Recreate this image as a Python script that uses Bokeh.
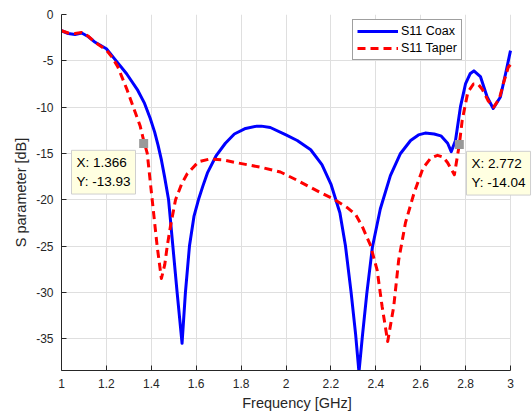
from bokeh.plotting import figure
from bokeh.models import Range1d, Legend, LegendItem, Label, FixedTicker, ColumnDataSource, BoxAnnotation
from bokeh.embed import file_html
from bokeh.resources import INLINE

# ---- data ----
coax_f = [1.00, 1.03, 1.06, 1.09, 1.12, 1.15, 1.20, 1.24, 1.29, 1.34, 1.37, 1.395, 1.415,
          1.43, 1.445, 1.459, 1.477, 1.496, 1.515, 1.537, 1.552, 1.570, 1.59, 1.61, 1.63, 1.65,
          1.69, 1.73, 1.77, 1.82, 1.87, 1.89, 1.93, 2.00, 2.05, 2.11, 2.16, 2.20, 2.24, 2.265,
          2.29, 2.31, 2.325, 2.34, 2.36, 2.385, 2.42, 2.465, 2.51, 2.555, 2.59, 2.62, 2.66,
          2.69, 2.72, 2.736, 2.755, 2.777, 2.80, 2.82, 2.837, 2.866, 2.896, 2.923, 2.955,
          2.978, 3.00]
coax_db = [-1.75, -2.05, -2.15, -2.0, -2.4, -3.0, -3.7, -4.9, -6.4, -8.2, -9.6, -11.2, -12.7,
           -14.1, -15.7, -17.5, -20.0, -25.0, -30.0, -35.5, -30.0, -25.0, -21.8, -20.0, -18.5, -17.1,
           -15.2, -13.9, -12.9, -12.3, -12.05, -12.05, -12.2, -13.0, -13.6, -14.6, -16.2, -18.3, -21.4,
           -25.0, -30.0, -34.5, -38.6, -34.8, -30.1, -25.1, -21.0, -17.4, -15.0, -13.6, -13.0, -12.8,
           -12.9, -13.1, -13.9, -14.8, -13.6, -9.97, -7.45, -6.4, -6.08, -6.7, -8.9, -10.15, -8.9,
           -6.4, -3.9]

taper_f = [1.00, 1.03, 1.06, 1.09, 1.12, 1.15, 1.20, 1.225, 1.25, 1.29, 1.32, 1.35, 1.365,
           1.382, 1.404, 1.426, 1.445, 1.46, 1.471, 1.485, 1.508, 1.535, 1.56, 1.61, 1.66, 1.72,
           1.78, 1.89, 1.975, 2.05, 2.12, 2.21, 2.27, 2.31, 2.34, 2.376, 2.406, 2.428, 2.453, 2.48,
           2.502, 2.532, 2.57, 2.61, 2.645, 2.675, 2.70, 2.72, 2.75, 2.772, 2.785, 2.81, 2.835, 2.855,
           2.875, 2.90, 2.925, 2.95, 2.97, 2.99, 3.00]
taper_db = [-1.75, -2.0, -2.05, -1.95, -2.35, -3.0, -3.85, -4.6, -5.6, -8.0, -10.0, -12.0, -13.5,
            -15.0, -20.0, -25.0, -28.5, -27.0, -25.0, -22.9, -20.0, -18.3, -17.2, -15.9, -15.6, -15.7,
            -16.0, -16.5, -17.0, -17.9, -18.8, -19.9, -20.8, -21.6, -22.9, -24.9, -27.6, -31.5, -35.3, -31.5,
            -26.5, -22.5, -19.3, -16.6, -15.5, -15.2, -15.4, -16.0, -17.3, -14.04, -11.4, -8.4, -7.5, -7.5,
            -8.1, -9.3, -10.0, -9.1, -7.3, -5.7, -5.4]

tip_x = [1.366, 2.772]
tip_y = [-13.93, -14.04]
tip_text = ["X: 1.366\nY: -13.93", "X: 2.772\nY: -14.04"]

x_ticks = [1.0, 1.2, 1.4, 1.6, 1.8, 2.0, 2.2, 2.4, 2.6, 2.8, 3.0]
x_tick_labels = ["1", "1.2", "1.4", "1.6", "1.8", "2", "2.2", "2.4", "2.6", "2.8", "3"]
y_ticks = [0, -5, -10, -15, -20, -25, -30, -35]
y_tick_labels = ["0", "-5", "-10", "-15", "-20", "-25", "-30", "-35"]

series_names = ["S11 Coax", "S11 Taper"]
x_label = "Frequency [GHz]"
y_label = "S parameter [dB]"

FONT = "Liberation Sans"
TXT = "#262626"

X_MIN, X_MAX = 1.0, 3.0
# frame is widened to the page edge so the right data tip can overhang x=3
FRAME_L, FRAME_R_DATA, PAGE_R = 61, 510, 532
x_end = X_MIN + (X_MAX - X_MIN) * (PAGE_R - FRAME_L) / (FRAME_R_DATA - FRAME_L)

p = figure(width=532, height=415, x_range=Range1d(X_MIN, x_end), y_range=Range1d(-38.43, 0),
           output_backend="svg", toolbar_location=None,
           min_border_left=61, min_border_right=0, min_border_top=14, min_border_bottom=45)
p.outline_line_color = None
p.background_fill_color = "white"
p.border_fill_color = "white"

# axes
p.xaxis.ticker = FixedTicker(ticks=x_ticks)
p.yaxis.ticker = FixedTicker(ticks=y_ticks)
p.xaxis.major_label_overrides = dict(zip(x_ticks, x_tick_labels))
p.yaxis.major_label_overrides = dict(zip(y_ticks, y_tick_labels))
p.xaxis.bounds = (X_MIN, X_MAX)
for ax in (p.xaxis, p.yaxis):
    ax.major_tick_in = 5
    ax.major_tick_out = 0
    ax.minor_tick_line_color = None
    ax.axis_line_color = TXT
    ax.major_tick_line_color = TXT
    ax.major_label_text_font = FONT
    ax.major_label_text_font_size = "12px"
    ax.major_label_text_color = TXT
    ax.axis_label_text_font = FONT
    ax.axis_label_text_font_size = "14.5px"
    ax.axis_label_text_font_style = "normal"
    ax.axis_label_text_color = TXT
p.xaxis.axis_label = x_label
p.yaxis.axis_label = y_label
p.xaxis.major_label_standoff = 8
p.xaxis.axis_label_standoff = 4
p.yaxis.major_label_standoff = 8
p.yaxis.axis_label_standoff = 4

p.grid.grid_line_color = "#dfdfdf"
p.grid.grid_line_width = 1
ygrid = p.ygrid[0]
if "cross_bounds" in ygrid.properties():
    ygrid.cross_bounds = (X_MIN, X_MAX)
else:
    p.add_layout(BoxAnnotation(left=X_MAX + 0.004, fill_color="white", fill_alpha=1.0,
                               line_color=None, level="underlay"))

src_c = ColumnDataSource(dict(x=coax_f, y=coax_db))
src_t = ColumnDataSource(dict(x=taper_f, y=taper_db))
r1 = p.line("x", "y", source=src_c, line_color="#0000ff", line_width=3, line_join="round")
r2 = p.line("x", "y", source=src_t, line_color="#ff0000", line_width=3, line_dash="8 5",
            line_join="round")

# data tips
p.scatter(tip_x, tip_y, marker="square", size=9, fill_color="#999999", line_color=None)
tip_box_pos = [(1.0445, -14.66), (2.804, -14.77)]
for (lx, ly), t in zip(tip_box_pos, tip_text):
    p.add_layout(Label(x=lx, y=ly, text=t, text_align="left", text_baseline="top",
                       text_font=FONT, text_font_size="13.5px", text_color="#000000",
                       text_line_height=1.25, padding=5,
                       background_fill_color="#ffffe1", background_fill_alpha=1.0,
                       border_line_color="#cfcfcf", border_line_width=1))

legend = Legend(items=[LegendItem(label=series_names[0], renderers=[r1]),
                       LegendItem(label=series_names[1], renderers=[r2])],
                location=(291, 310), margin=0, padding=4, spacing=3,
                glyph_width=41, glyph_height=14, label_height=14, label_standoff=3,
                label_text_font=FONT, label_text_font_size="12.5px", label_text_color="#000000",
                border_line_color="#404040", border_line_width=1,
                background_fill_color="white", background_fill_alpha=1.0)
p.add_layout(legend)

open("out.html", "w").write(file_html(p, INLINE))
